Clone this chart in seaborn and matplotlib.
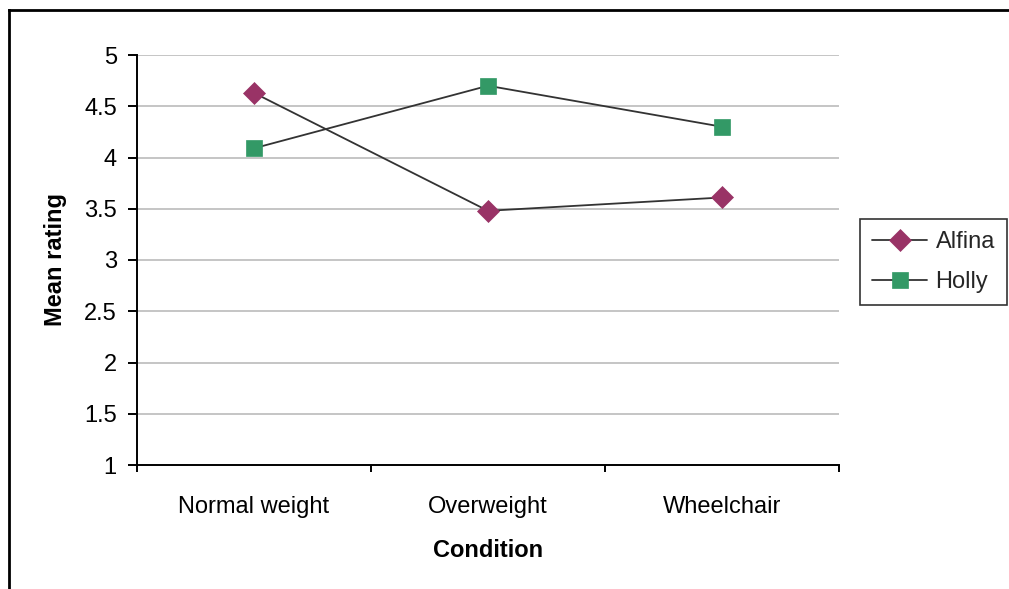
import matplotlib
matplotlib.use("Agg")
import matplotlib.pyplot as plt
import seaborn as sns
import pandas as pd
from matplotlib.lines import Line2D

categories = ["Normal weight", "Overweight", "Wheelchair"]
alfina = [4.63, 3.48, 3.61]
holly = [4.09, 4.70, 4.30]
series_names = ["Alfina", "Holly"]
y_ticks = [1, 1.5, 2, 2.5, 3, 3.5, 4, 4.5, 5]
y_tick_labels = ["1", "1.5", "2", "2.5", "3", "3.5", "4", "4.5", "5"]

sns.set_theme(style="white")
plt.rcParams["font.family"] = ["Liberation Sans", "DejaVu Sans"]

FS = 17

fig = plt.figure(figsize=(10.09, 5.89), dpi=100)
ax = fig.add_axes([137/1009, 1-465/589, (839-137)/1009, (465-55)/589])

df = pd.DataFrame({
    "Condition": categories * 2,
    "Mean rating": alfina + holly,
    "Series": [series_names[0]] * 3 + [series_names[1]] * 3,
})
styles = {
    "Alfina": dict(marker="D", color="#993366", ms=11),
    "Holly": dict(marker="s", color="#339966", ms=11.5),
}
for name in series_names:
    sub = df[df["Series"] == name]
    st = styles[name]
    sns.lineplot(data=sub, x="Condition", y="Mean rating", ax=ax, color="#333333",
                 linewidth=1.3, marker=st["marker"], markersize=st["ms"],
                 markerfacecolor=st["color"], markeredgecolor=st["color"],
                 markeredgewidth=0.5, label=name, sort=False, zorder=3)

ax.set_ylim(1, 5)
ax.set_xlim(-0.5, 2.5)
ax.set_yticks(y_ticks)
ax.set_yticklabels(y_tick_labels)
ax.set_xticks([0, 1, 2])
ax.set_xticklabels(categories)
ax.set_xticks([-0.5, 0.5, 1.5, 2.5], minor=True)

for y in y_ticks[1:]:
    ax.axhline(y, color="#c0c0c0", linewidth=1.3, zorder=1)

for s in ["top", "right"]:
    ax.spines[s].set_visible(False)
for s in ["left", "bottom"]:
    ax.spines[s].set_color("black")
    ax.spines[s].set_linewidth(1.4)

ax.tick_params(axis="y", which="major", direction="out", length=6.5, width=1.4,
               color="black", labelsize=FS, pad=8, left=True, labelcolor="black")
ax.tick_params(axis="x", which="major", length=0, labelsize=FS, pad=22, labelcolor="black")
ax.tick_params(axis="x", which="minor", direction="out", length=5, width=1.4,
               color="black", bottom=True)

ax.set_xlabel("Condition", fontsize=FS, fontweight="bold", color="black")
ax.set_ylabel("Mean rating", fontsize=FS, fontweight="bold", color="black")
ax.xaxis.set_label_coords(0.5, -(539-465)/410)
ax.yaxis.set_label_coords(-(137-67)/702, 0.5)

leg = ax.legend(loc="upper left", bbox_to_anchor=(860/1009, 1-219/589),
                bbox_transform=fig.transFigure, frameon=True, fancybox=False,
                fontsize=FS, handlelength=2.35, handletextpad=0.35,
                borderpad=0.5, labelspacing=0.78, borderaxespad=0)
leg.get_frame().set_edgecolor("black")
leg.get_frame().set_linewidth(1.2)

fx = 9/1009
fy = 1 - 10/589
fig.add_artist(Line2D([fx, fx], [-0.1, fy], transform=fig.transFigure,
                      color="black", linewidth=2, solid_capstyle="projecting"))
fig.add_artist(Line2D([fx, 1.1], [fy, fy], transform=fig.transFigure,
                      color="black", linewidth=2, solid_capstyle="projecting"))

fig.savefig("out.png", dpi=100)
